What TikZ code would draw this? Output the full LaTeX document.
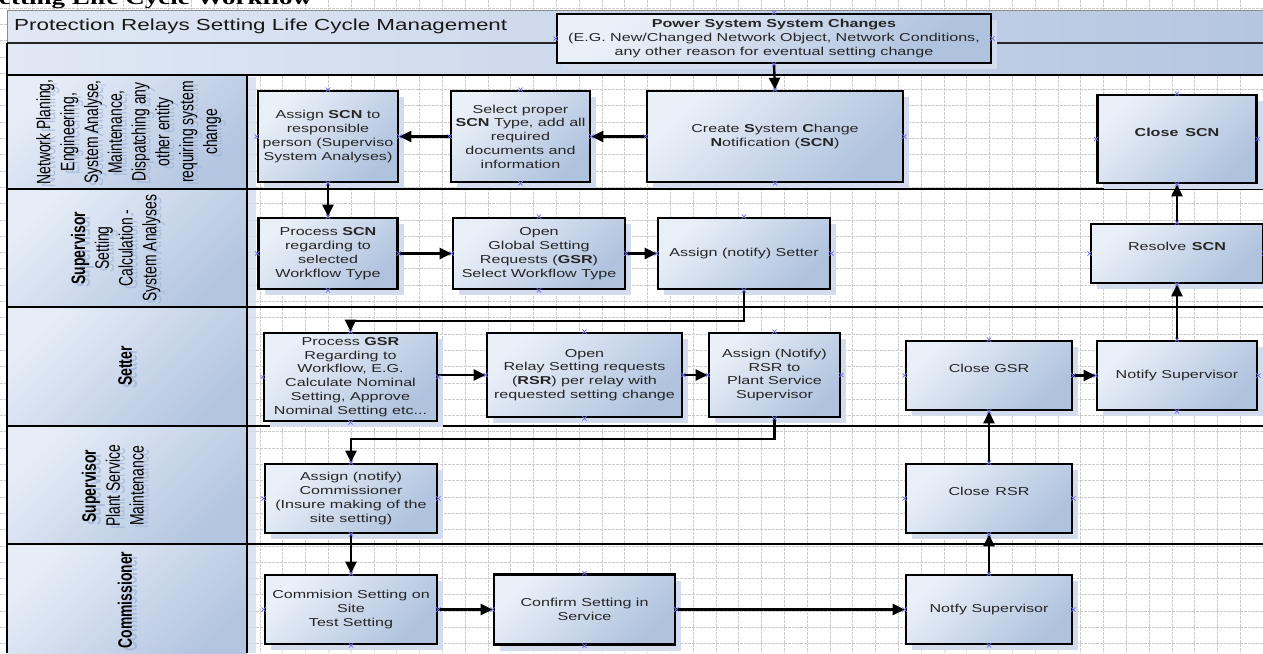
\documentclass[tikz,border=0pt]{standalone}
\usepackage{graphicx}
\usepackage{fontspec}
\setmainfont{Liberation Sans}[FakeStretch=1.4]
\newfontfamily\lanefont{Liberation Sans}
\newfontfamily\headfont{Liberation Serif}[FakeStretch=1.4]
\usetikzlibrary{arrows.meta,shadows}

\definecolor{boxlight}{HTML}{EAF0F8}
\definecolor{boxdark}{HTML}{AFC2DE}
\definecolor{headlight}{HTML}{E6EDF7}
\definecolor{headdark}{HTML}{B3C5E0}
\definecolor{barlight}{HTML}{E0E8F4}
\definecolor{bardark}{HTML}{B5C6E1}
\definecolor{shadowblue}{HTML}{D2DCEC}
\definecolor{gridgray}{HTML}{CBCBCB}
\definecolor{markblue}{HTML}{6F6FF0}
\definecolor{inktext}{HTML}{262626}
\definecolor{ghost}{HTML}{9FB3D6}

% rotated swimlane caption with its pale echo behind it
\newcommand\lanetext[4]{%
  \node[lanelbl, text=ghost, opacity=0.75] (#1g) at (#2+5,#3+3)
    {\scalebox{1}[1.4]{\begin{tabular}{@{}c@{}}#4\end{tabular}}};
  \node[lanelbl] (#1) at (#2,#3)
    {\scalebox{1}[1.4]{\begin{tabular}{@{}c@{}}#4\end{tabular}}};}

\begin{document}
\begin{tikzpicture}[x=1pt,y=-1pt,
  gridline/.style={draw=gridgray, line width=0.6pt, dash pattern=on 2.5pt off 1.5pt},
  laneline/.style={draw=black, line width=2.8pt},
  stepbox/.style={draw=black, line width=2.6pt,
    top color=boxlight, bottom color=boxdark, shading angle=45,
    inner sep=2pt, align=center, text=inktext,
    font=\fontsize{11.5}{13.8}\selectfont,
    drop shadow={shadow xshift=6pt, shadow yshift=-6pt, fill=shadowblue, draw=none, opacity=1}},
  headcell/.style={top color=headlight, bottom color=headdark, shading angle=45},
  lanelbl/.style={rotate=90, inner sep=0, font=\lanefont\fontsize{13.9}{17}\selectfont},
  conn/.style={draw=black, line width=2.4pt, -{Triangle[length=12pt,width=11pt]}},
  cpmark/.pic={\draw[markblue, line width=0.7pt] (-2.2,-2.2) -- (2.2,2.2) (-2.2,2.2) -- (2.2,-2.2);}
]
\useasboundingbox (0,0) rectangle (1263,653);
\clip (0,0) rectangle (1263,653);

% page grid
\foreach \gx in {9.1,31.9,...,1263} \draw[gridline] (\gx,0) -- (\gx,653);
\foreach \gy in {7.9,24.2,...,653} \draw[gridline] (0,\gy) -- (1263,\gy);

% heading above the pool
\node[anchor=base west, inner sep=0, font=\headfont\bfseries\fontsize{19.3}{23}\selectfont] (hdr) at (-1,5) {etting Life Cycle Workflow};

% pool title bar
\fill[left color=barlight, right color=bardark] (7,10) rectangle (1263,43);
\draw[black!45, line width=0.8pt] (1263,10) -- (7,10) -- (7,43);
\fill[left color=barlight, right color=bardark] (7,43) rectangle (1263,75);
\draw[black!85, line width=1.6pt] (7,43) -- (1263,43);
\node[anchor=west, inner sep=0, text=black!90, font=\fontsize{16}{19}\selectfont] (ttl) at (14,26.5) {Protection Relays Setting Life Cycle Management};

% lane header cells
\path[headcell] (7,75) rectangle (247,189);
\path[headcell] (7,189) rectangle (247,307);
\path[headcell] (7,307) rectangle (247,426);
\path[headcell] (7,426) rectangle (247,544);
\path[headcell] (7,544) rectangle (247,660);
\fill[shadowblue, opacity=0.8] (248,77) rectangle (256,653);

% lane borders
\draw[laneline] (7,43) -- (7,653);
\draw[laneline] (247,75) -- (247,653);
\foreach \ly in {75,189,307,426,544} \draw[laneline] (7,\ly) -- (1263,\ly);

% lane captions
\lanetext{lnA}{129}{132}{Network Planing,\\Engineering,\\System Analyse,\\Maintenance,\\Dispatching any\\other entity\\requiring system\\change}
\lanetext{lnB}{116}{248}{\textbf{Supervisor}\\Setting\\Calculation -\\System Analyses}
\lanetext{lnC}{127}{366}{\textbf{Setter}}
\lanetext{lnD}{115}{486}{\textbf{Supervisor}\\Plant Service\\Maintenance}
\lanetext{lnE}{127}{600}{\textbf{Commissioner}}

% process steps
\node[stepbox, minimum width=434, minimum height=49] (P) at (774,38.5)
  {\textbf{Power System System Changes}\\(E.G. New/Changed Network Object, Network Conditions,\\any other reason for eventual setting change};

\node[stepbox, minimum width=140, minimum height=91] (A1) at (328,136.5)
  {Assign \textbf{SCN} to\\responsible\\person (Superviso\\System Analyses)};
\node[stepbox, minimum width=139, minimum height=91] (A2) at (520.5,136.5)
  {Select proper\\\textbf{SCN} Type, add all\\required\\documents and\\information};
\node[stepbox, minimum width=256, minimum height=91] (A3) at (775,136.5)
  {Create \textbf{S}ystem \textbf{C}hange\\\textbf{N}otification (\textbf{SCN})};
\node[stepbox, minimum width=159, minimum height=88] (A4) at (1177,139)
  {\textbf{Close}\hspace{0.6em}\textbf{SCN}\\\mbox{}};

\node[stepbox, minimum width=139, minimum height=71] (B1) at (328,253.5)
  {Process \textbf{SCN}\\regarding to\\selected\\Workflow Type};
\node[stepbox, minimum width=172, minimum height=71] (B2) at (539,253.5)
  {Open\\Global Setting\\Requests (\textbf{GSR})\\Select Workflow Type};
\node[stepbox, minimum width=172, minimum height=71] (B3) at (744,253.5)
  {Assign (notify) Setter};
\node[stepbox, minimum width=172, minimum height=59] (B4) at (1177,253.5)
  {Resolve\hspace{0.5em}\textbf{SCN}\\\mbox{}};

\node[stepbox, minimum width=173, minimum height=88] (C1) at (350.5,377)
  {Process \textbf{GSR}\\Regarding to\\Workflow, E.G.\\Calculate Nominal\\Setting, Approve\\Nominal Setting etc...};
\node[stepbox, minimum width=195, minimum height=84] (C2) at (584.5,375)
  {Open\\Relay Setting requests\\(\textbf{RSR}) per relay with\\requested setting change};
\node[stepbox, minimum width=131, minimum height=84] (C3) at (774.5,375)
  {Assign (Notify)\\RSR to\\Plant Service\\Supervisor};
\node[stepbox, minimum width=166, minimum height=69] (C4) at (989,375.5)
  {Close GSR\\\mbox{}};
\node[stepbox, minimum width=160, minimum height=69] (C5) at (1177,375.5)
  {Notify Supervisor};

\node[stepbox, minimum width=172, minimum height=69] (D1) at (351,498.5)
  {Assign (notify)\\Commissioner\\(Insure making of the\\site setting)};
\node[stepbox, minimum width=166, minimum height=69] (D2) at (989,498.5)
  {Close\hspace{0.5em}RSR\\\mbox{}};

\node[stepbox, minimum width=172, minimum height=69] (E1) at (351,609.5)
  {Commision Setting on\\Site\\Test Setting};
\node[stepbox, minimum width=181, minimum height=70] (E2) at (584.5,609.5)
  {Confirm Setting in\\Service};
\node[stepbox, minimum width=166, minimum height=69] (E3) at (989,609.5)
  {Notfy Supervisor};

% bend points of the lane-crossing connectors
\coordinate (bendBC) at (350.5,321);
\coordinate (bendCD) at (351,439);

% flow
\draw[conn] (P.south) -- (A3.north);
\draw[conn] (A3.west) -- (A2.east);
\draw[conn] (A2.west) -- (A1.east);
\draw[conn] (A1.south) -- (B1.north);
\draw[conn] (B1.east) -- (B2.west);
\draw[conn] (B2.east) -- (B3.west);
\draw[conn] (B3.south) |- (bendBC) -- (C1.north);
\draw[conn] (C2.west -| C1.east) -- (C2.west);
\draw[conn] (C2.east) -- (C3.west);
\draw[conn] (C3.south) |- (bendCD) -- (D1.north);
\draw[conn] (D1.south) -- (E1.north);
\draw[conn] (E1.east) -- (E2.west);
\draw[conn] (E2.east) -- (E3.west);
\draw[conn] (E3.north) -- (D2.south);
\draw[conn] (D2.north) -- (C4.south);
\draw[conn] (C4.east) -- (C5.west);
\draw[conn] (C5.north) -- (B4.south);
\draw[conn] (B4.north) -- (A4.south);

% connection points on the step shapes
\foreach \n in {P,A1,A2,A3,A4,B1,B2,B3,B4,C1,C2,C3,C4,C5,D1,D2,E1,E2,E3}
  \foreach \a in {north,south,east,west}
    \pic at (\n.\a) {cpmark};
\end{tikzpicture}
\end{document}
